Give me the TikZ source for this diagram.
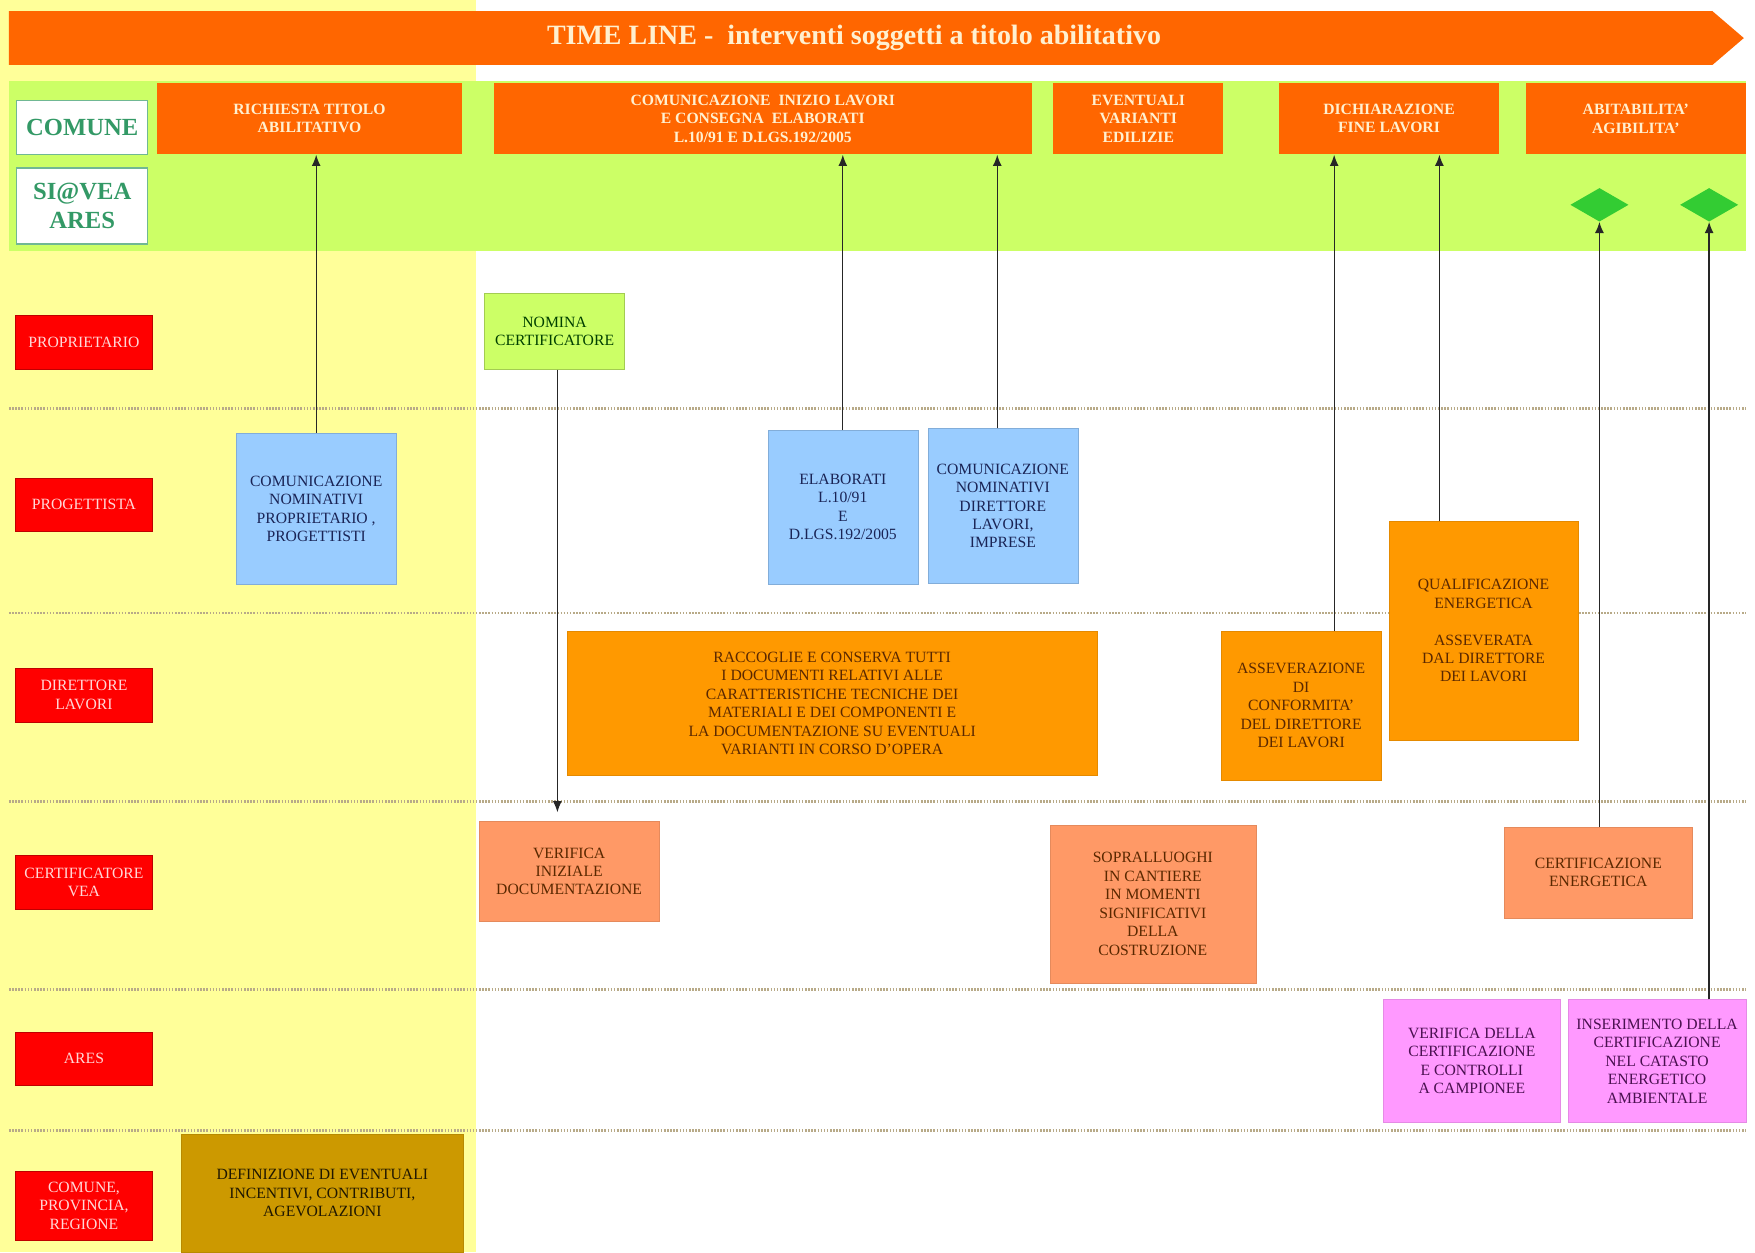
\documentclass[tikz,border=0pt]{standalone}
\usepackage{fontspec}
\setmainfont{Liberation Serif}
\usetikzlibrary{positioning, calc, arrows.meta, shapes.geometric}

\definecolor{bandorange}{HTML}{FF6600}
\definecolor{colyellow}{HTML}{FFFF99}
\definecolor{bandgreen}{HTML}{CCFF66}
\definecolor{labelgreen}{HTML}{339966}
\definecolor{actorred}{HTML}{FF0000}
\definecolor{actortext}{HTML}{FFD8D8}
\definecolor{skyfill}{HTML}{99CCFF}
\definecolor{navytext}{HTML}{1A2455}
\definecolor{taskfill}{HTML}{FF9900}
\definecolor{salmonfill}{HTML}{FF9966}
\definecolor{pinkfill}{HTML}{FF99FF}
\definecolor{goldfill}{HTML}{CC9900}
\definecolor{browntext}{HTML}{5A2800}
\definecolor{purpletext}{HTML}{4A1050}
\definecolor{diamondgreen}{HTML}{33CC33}
\definecolor{sepline}{HTML}{B8AA88}
\definecolor{creamtext}{HTML}{FFF0D0}

\begin{document}
\begin{tikzpicture}[
        x=1pt, y=-1pt,
        every node/.style={align=center, inner sep=2pt, font=\fontsize{14}{16.5}\selectfont},
        header/.style={rectangle, fill=bandorange, text=creamtext, minimum height=64pt, font=\bfseries\fontsize{14}{16.5}\selectfont},
        panel/.style={rectangle, fill=white, draw=labelgreen!70, line width=1.2pt, text=labelgreen, minimum width=117pt, font=\bfseries\fontsize{22}{26}\selectfont},
        actor/.style={rectangle, fill=actorred, draw=actorred!75!black, text=actortext, minimum width=122pt, minimum height=48pt},
        bluebox/.style={rectangle, fill=skyfill, draw=skyfill!85!black, text=navytext},
        limebox/.style={rectangle, fill=bandgreen, draw=bandgreen!80!black, text=black!75!green},
        taskbox/.style={rectangle, fill=taskfill, draw=taskfill!90!black, text=browntext},
        salmonbox/.style={rectangle, fill=salmonfill, draw=salmonfill!90!black, text=browntext},
        pinkbox/.style={rectangle, fill=pinkfill, draw=pinkfill!90!black, text=purpletext},
        goldbox/.style={rectangle, fill=goldfill, draw=goldfill!90!black, text=black!85!goldfill},
        milestone/.style={diamond, fill=diamondgreen, minimum width=52pt, minimum height=30pt, inner sep=0pt},
        separator/.style={draw=sepline, line width=2pt, dash pattern=on 1.4pt off 1.4pt},
        arrow/.style={-{Latex[length=10pt, width=8pt]}, line width=1.2pt, draw=black!85}
    ]
        % --- BACKGROUND ---
        \useasboundingbox (0,0) rectangle (1568,1119);
        \fill[white] (0,0) rectangle (1568,1119);
        \fill[colyellow] (0,0) rectangle (425,1119);
        \fill[bandorange] (8,10) -- (1530,10) -- (1558,34) -- (1530,58) -- (8,58) -- cycle;
        \node[font=\bfseries\fontsize{25}{30}\selectfont, text=creamtext] (title) at (763,34) {TIME LINE -\ \ interventi soggetti a titolo abilitativo};
        \fill[bandgreen] (8,72) rectangle (1560,224);

        % --- SWIMLANE SEPARATORS ---
        \foreach \ypos in {365, 548, 716, 884, 1010}
            \draw[separator] (8,\ypos) -- (1560,\ypos);

        % --- COMUNE / SI@VEA ---
        \node[panel, minimum height=48pt] (comune) at (73.5,114) {COMUNE};
        \node[panel, minimum height=68pt] (siavea) at (73.5,184) {SI@VEA\\ARES};

        \node[header, minimum width=273pt] (richiesta) at (276.5,106) {RICHIESTA TITOLO\\ABILITATIVO};
        \node[header, minimum width=481pt] (inizio) at (681.5,106) {COMUNICAZIONE\ \ INIZIO LAVORI\\E CONSEGNA\ \ ELABORATI\\L.10/91 E D.LGS.192/2005};
        \node[header, minimum width=152pt] (varianti) at (1017,106) {EVENTUALI\\VARIANTI\\EDILIZIE};
        \node[header, minimum width=196pt] (fine) at (1241,106) {DICHIARAZIONE\\FINE LAVORI};
        \node[header, minimum width=197pt] (abitabilita) at (1461.5,106) {ABITABILITA'\\AGIBILITA'};

        \node[milestone] (dia1) at (1429,183) {};
        \node[milestone] (dia2) at (1527,183) {};

        % --- ACTORS ---
        \node[actor] (proprietario) at (75,306) {PROPRIETARIO};
        \node[actor] (progettista) at (75,451) {PROGETTISTA};
        \node[actor] (direttore) at (75,621) {DIRETTORE\\LAVORI};
        \node[actor] (certificatore) at (75,788.5) {CERTIFICATORE\\VEA};
        \node[actor] (ares) at (75,946) {ARES};
        \node[actor, minimum height=62pt] (enti) at (75,1077) {COMUNE,\\PROVINCIA,\\REGIONE};

        % --- ACTIVITIES ---
        \node[limebox, minimum width=125pt, minimum height=68pt] (nomina) at (495.5,296) {NOMINA\\CERTIFICATORE};

        \node[bluebox, minimum width=143pt, minimum height=135pt] (comnom) at (282.5,454.5) {COMUNICAZIONE\\NOMINATIVI\\PROPRIETARIO ,\\PROGETTISTI};
        \node[bluebox, minimum width=134pt, minimum height=138pt] (elaborati) at (753,453) {ELABORATI\\L.10/91\\E\\D.LGS.192/2005};
        \node[bluebox, minimum width=134pt, minimum height=138pt] (comdir) at (896,452) {COMUNICAZIONE\\NOMINATIVI\\DIRETTORE\\LAVORI,\\IMPRESE};

        \node[taskbox, minimum width=473pt, minimum height=129pt] (raccoglie) at (743.5,628.5) {RACCOGLIE E CONSERVA TUTTI\\I DOCUMENTI RELATIVI ALLE\\CARATTERISTICHE TECNICHE DEI\\MATERIALI E DEI COMPONENTI E\\LA DOCUMENTAZIONE SU EVENTUALI\\VARIANTI IN CORSO D'OPERA};
        \node[taskbox, minimum width=143pt, minimum height=133pt] (assev) at (1162.5,630.5) {ASSEVERAZIONE\\DI\\CONFORMITA'\\DEL DIRETTORE\\DEI LAVORI};
        \node[taskbox, minimum width=169pt, minimum height=195pt] (qualif) at (1325.5,563.5) {QUALIFICAZIONE\\ENERGETICA\\~\\ASSEVERATA\\DAL DIRETTORE\\DEI LAVORI};

        \node[salmonbox, minimum width=161pt, minimum height=89pt] (verifica) at (508.5,778.5) {VERIFICA\\INIZIALE\\DOCUMENTAZIONE};
        \node[salmonbox, minimum width=184pt, minimum height=141pt] (sopralluoghi) at (1030,807.5) {SOPRALLUOGHI\\IN CANTIERE\\IN MOMENTI\\SIGNIFICATIVI\\DELLA\\COSTRUZIONE};
        \node[salmonbox, minimum width=168pt, minimum height=81pt] (certen) at (1428,779.5) {CERTIFICAZIONE\\ENERGETICA};

        \node[pinkbox, minimum width=158pt, minimum height=110pt] (controlli) at (1315,948) {VERIFICA DELLA\\CERTIFICAZIONE\\E CONTROLLI\\A CAMPIONEE};
        \node[pinkbox, minimum width=159pt, minimum height=110pt] (catasto) at (1480.5,948) {INSERIMENTO DELLA\\CERTIFICAZIONE\\NEL CATASTO\\ENERGETICO\\AMBIENTALE};

        \node[goldbox, minimum width=252pt, minimum height=106pt] (incentivi) at (288,1066) {DEFINIZIONE DI EVENTUALI\\INCENTIVI, CONTRIBUTI,\\AGEVOLAZIONI};

        % --- CONNECTIONS ---
        \coordinate (comdirtop) at ([xshift=-5pt]comdir.north);
        \coordinate (assevtop) at ([xshift=29.5pt]assev.north);
        \coordinate (qualiftop) at ([xshift=-39.5pt]qualif.north);
        \coordinate (nominabot) at ([xshift=2.5pt]nomina.south);

        \draw[arrow] (comnom.north) -- (comnom.north |- richiesta.south);
        \draw[arrow] (elaborati.north) -- (elaborati.north |- inizio.south);
        \draw[arrow] (comdirtop) -- (comdirtop |- inizio.south);
        \draw[arrow] (assevtop) -- (assevtop |- fine.south);
        \draw[arrow] (qualiftop) -- (qualiftop |- fine.south);
        \draw[arrow] (certen.north -| dia1.south) -- (dia1.south);
        \draw[arrow] (catasto.north -| dia2.south) -- (dia2.south);
        \draw[arrow, shorten >=8pt] (nominabot) -- (nominabot |- verifica.north);

    \end{tikzpicture}
\end{document}
